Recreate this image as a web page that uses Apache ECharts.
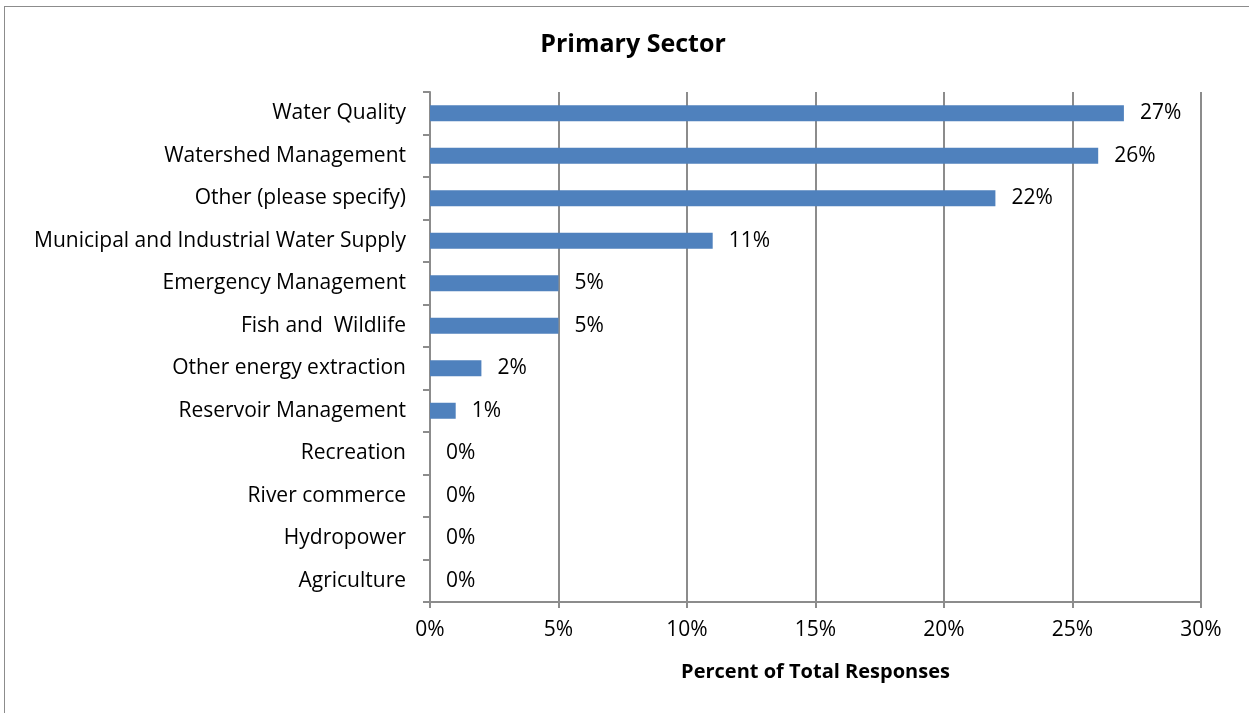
<!DOCTYPE html>
<html><head><meta charset="utf-8">
<script src="https://cdn.jsdelivr.net/npm/echarts@6/dist/echarts.min.js"></script>
<style>
html,body{margin:0;padding:0;background:#fff;}
#frame{position:absolute;left:4px;top:6px;width:1260px;height:720px;border:1.5px solid #8c8c8c;box-sizing:border-box;}
#c{position:absolute;left:0;top:0;width:1249px;height:713px;}
</style></head>
<body>
<div id="frame"></div>
<div id="c"></div>
<script>
const categories = ["Water Quality","Watershed Management","Other (please specify)","Municipal and Industrial Water Supply","Emergency Management","Fish and  Wildlife","Other energy extraction","Reservoir Management","Recreation","River commerce","Hydropower","Agriculture"];
const values = [27,26,22,11,5,5,2,1,0,0,0,0];
const xTicks = [0,5,10,15,20,25,30];

const FONT = "Open Sans";
const chart = echarts.init(document.getElementById('c'));
chart.setOption({
  animation:false,
  title:{text:"Primary Sector",left:628,top:27,textAlign:'center',
    textStyle:{fontFamily:FONT,fontSize:25,fontWeight:'bold',color:'#000'}},
  grid:{left:430,right:48,top:92,bottom:111,containLabel:false},
  xAxis:{type:'value',min:0,max:30,interval:5,
    name:"Percent of Total Responses",nameLocation:'middle',nameGap:60,
    nameTextStyle:{fontFamily:FONT,fontSize:20,fontWeight:'bold',color:'#000'},
    axisLine:{show:true,lineStyle:{color:'#8c8c8c',width:2}},
    axisTick:{show:true,length:6,lineStyle:{color:'#8c8c8c',width:2}},
    axisLabel:{fontFamily:FONT,fontSize:21,color:'#000',margin:18,formatter:v=>v+'%'},
    splitLine:{show:true,lineStyle:{color:'#8c8c8c',width:2}}},
  yAxis:{type:'category',data:categories.slice().reverse(),inverse:false,
    axisLine:{show:true,lineStyle:{color:'#8c8c8c',width:2}},
    axisTick:{show:true,length:7,lineStyle:{color:'#8c8c8c',width:2}},
    axisLabel:{fontFamily:FONT,fontSize:21,color:'#000',margin:24}},
  series:[{type:'bar',data:values.slice().reverse(),barWidth:16,
    itemStyle:{color:'#4f81bd'},
    label:{show:true,position:'right',distance:16,formatter:p=>p.value+'%',
      fontFamily:FONT,fontSize:21,color:'#000'}}]
});
</script>
</body></html>
